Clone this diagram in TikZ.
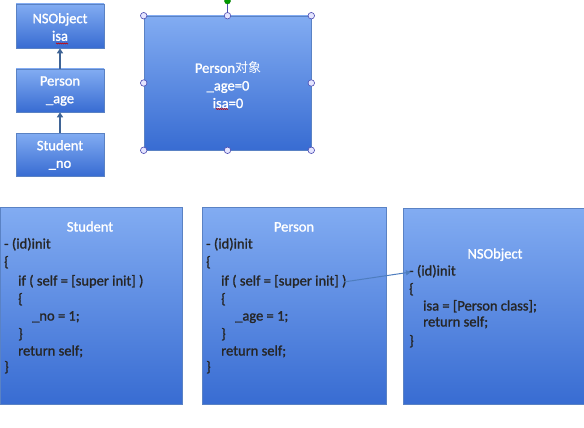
\documentclass[tikz,border=0pt]{standalone}
\usepackage{fontspec}
\setmainfont{Carlito}
\newfontfamily\heavy{Carlito}[FakeBold=1.3]
\newfontfamily\cjk{Noto Sans CJK SC}
\usetikzlibrary{arrows.meta,decorations.pathmorphing}
\definecolor{btop}{HTML}{82ACF2}
\definecolor{bbot}{HTML}{386CD2}
\definecolor{bedge}{HTML}{5A82C4}
\definecolor{arr}{HTML}{3F6496}
\definecolor{harr}{HTML}{4E7DBE}
\tikzset{
  boxs/.style={draw=bedge, line width=0.6pt, top color=btop, bottom color=bbot, inner sep=0pt},
  wtext/.style={text=white, font=\heavy\fontsize{14.5}{17.6}\selectfont, inner sep=0pt, align=center},
  code/.style={anchor=west, inner sep=0pt, text height=10pt, text depth=3pt, font=\heavy\fontsize{14.5}{17.6}\selectfont, text=black!85},
  ttl/.style={inner sep=0pt, text height=10pt, text depth=3pt, font=\heavy\fontsize{14.5}{17.6}\selectfont, text=white},
  handle/.style={circle, draw=gray!60!blue, fill=white!90!blue, line width=0.6pt, inner sep=0pt, minimum size=6.5pt},
  uparr/.style={draw=arr, line width=2pt, -{Triangle[length=5pt,width=6pt]}},
  squig/.style={draw=red!80!black, line width=0.5pt, decorate, decoration={zigzag, amplitude=0.6pt, segment length=2pt}}
}
\begin{document}
\begin{tikzpicture}[x=1pt,y=-1pt]
\useasboundingbox (0,0) rectangle (584,428);
\fill[white] (0,0) rectangle (584,428);
% small boxes
\node[boxs, minimum width=88pt, minimum height=44pt] (sNS) at (60,26) {};
\node[boxs, minimum width=88pt, minimum height=43pt] (sP) at (60,90.5) {};
\node[boxs, minimum width=88pt, minimum height=43pt] (sS) at (60,154.5) {};
\node[wtext] (tNS) at (60,27) {NSObject\\isa};
\node[wtext] (tP) at (60,91) {Person\\\_age};
\node[wtext] (tS) at (60,155) {Student\\\_no};
\draw[squig] (56,43.5) -- (68,43.5);
\draw[uparr] (sP.north) -- (sNS.south);
\draw[uparr] (sS.north) -- (sP.south);
% big object box
\node[boxs, minimum width=167pt, minimum height=134pt] (obj) at (227.5,83) {};
\node[wtext] (tobj) at (228,85) {Person{\cjk\fontsize{13}{17.6}\selectfont 对象}\\\_age=0\\isa=0};
\draw[squig] (216,109) -- (228,109);
\draw[gray!60!blue, line width=0.6pt] (obj.north) -- (227.5,3);
\node[circle, draw=green!50!black, fill=green!60!black, inner sep=0pt, minimum size=6pt] (rot) at (227.5,1) {};
\foreach \a/\n in {north west/h1,north/h2,north east/h3,west/h4,east/h5,south west/h6,south/h7,south east/h8}
  \node[handle] (\n) at (obj.\a) {};
% bottom boxes
\node[boxs, minimum width=182pt, minimum height=197pt, anchor=north west] (bS) at (-0.5,207) {};
\node[boxs, minimum width=184pt, minimum height=197pt, anchor=north west] (bP) at (202,207) {};
\node[boxs, minimum width=182pt, minimum height=196pt, anchor=north west] (bN) at (403,208) {};
% Student code
\node[ttl] (sT) at (90,228) {Student};
\node[code] (s1) at (4,245) {- (id)init};
\node[code] (s2) at (4,263) {\{};
\node[code] (s3) at (18,282) {if ( self = [super init] )};
\node[code] (s4) at (18,300) {\{};
\node[code] (s5) at (32,317) {\_no = 1;};
\node[code] (s6) at (18,335) {\}};
\node[code] (s7) at (18,352) {return self;};
\node[code] (s8) at (4,368) {\}};
% Person code
\node[ttl] (pT) at (294,228) {Person};
\node[code] (p1) at (206,245) {- (id)init};
\node[code] (p2) at (206,263) {\{};
\node[code] (p3) at (221,282) {if ( self = [super init] )};
\node[code] (p4) at (221,300) {\{};
\node[code] (p5) at (235,317) {\_age = 1;};
\node[code] (p6) at (221,335) {\}};
\node[code] (p7) at (221,352) {return self;};
\node[code] (p8) at (206,368) {\}};
% NSObject code
\node[ttl] (nT) at (495,255) {NSObject};
\node[code] (n1) at (409,272) {- (id)init};
\node[code] (n2) at (409,290) {\{};
\node[code] (n3) at (423,307) {isa = [Person class];};
\node[code] (n4) at (423,323) {return self;};
\node[code] (n5) at (409,342) {\}};
% connector
\draw[harr, line width=1pt, -{Triangle[length=5pt,width=5pt]}] ([xshift=-3pt]p3.east) -- ([xshift=2pt]n1.west);
\end{tikzpicture}
\end{document}
